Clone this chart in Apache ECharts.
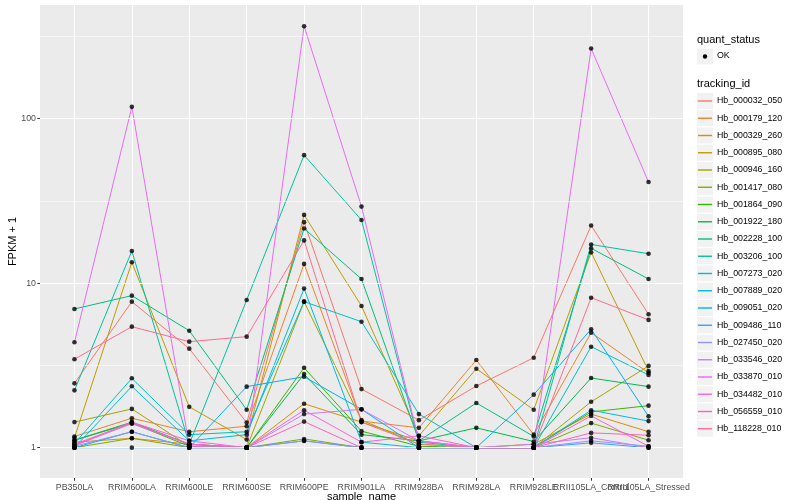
<!DOCTYPE html>
<html><head><meta charset="utf-8">
<script src="https://cdn.jsdelivr.net/npm/echarts@6/dist/echarts.min.js"></script>
<style>html,body{margin:0;padding:0;background:#fff}#c{width:800px;height:500px}</style>
</head><body><div id="c"></div>
<script>
// ---- data ----
const samples = ['PB350LA','RRIM600LA','RRIM600LE','RRIM600SE','RRIM600PE','RRIM901LA','RRIM928BA','RRIM928LA','RRIM928LE','RRII105LA_Control','RRII105LA_Stressed'];
const trackingIds = ['Hb_000032_050','Hb_000179_120','Hb_000329_260','Hb_000895_080','Hb_000946_160','Hb_001417_080','Hb_001864_090','Hb_001922_180','Hb_002228_100','Hb_003206_100','Hb_007273_020','Hb_007889_020','Hb_009051_020','Hb_009486_110','Hb_027450_020','Hb_033546_020','Hb_033870_010','Hb_034482_010','Hb_056559_010','Hb_118228_010'];
const seriesColors = ['#F8766D','#EA8331','#D89000','#C09B00','#A3A500','#7CAE00','#39B600','#00BB4E','#00BF7D','#00C1A3','#00BFC4','#00BAE0','#00B0F6','#35A2FF','#9590FF','#C77CFF','#E76BF3','#FA62DB','#FF62BC','#FF6C91'];
const yTicks = [1, 10, 100];
const yMinorTicks = [3.1623, 31.623, 316.23];

const Hb_000032_050 = [2.46, 7.72, 4.0, 1.42, 23.5, 2.27, 1.47, 2.37, 3.52, 22.4, 6.47];
const Hb_000179_120 = [1.17, 1.51, 1.25, 1.35, 13.1, 1.45, 1.32, 3.41, 1.20, 5.0, 2.85];
const Hb_000329_260 = [1.08, 1.14, 1.05, 1.0, 1.85, 1.43, 1.1, 1.0, 1.05, 1.6, 1.25];
const Hb_000895_080 = [1.15, 13.4, 1.77, 1.12, 26.0, 7.27, 1.18, 3.02, 1.70, 15.4, 2.92];
const Hb_000946_160 = [1.43, 1.72, 1.02, 1.0, 7.72, 1.47, 1.05, 1.0, 1.0, 1.9, 3.14];
const Hb_001417_080 = [1.0, 1.14, 1.0, 1.0, 1.13, 1.0, 1.0, 1.0, 1.0, 1.41, 1.11];
const Hb_001864_090 = [1.11, 1.41, 1.02, 1.0, 3.06, 1.26, 1.02, 1.0, 1.0, 1.65, 1.80];
const Hb_001922_180 = [1.11, 1.43, 1.05, 1.0, 2.8, 1.2, 1.1, 1.32, 1.09, 2.65, 2.35];
const Hb_002228_100 = [6.97, 8.4, 5.14, 1.70, 21.5, 10.6, 1.1, 1.87, 1.17, 16.3, 10.6];
const Hb_003206_100 = [2.23, 15.7, 1.05, 7.9, 60.0, 24.2, 1.08, 1.0, 1.0, 17.2, 15.1];
const Hb_007273_020 = [1.06, 2.64, 1.2, 1.25, 7.72, 5.83, 1.6, 1.0, 1.0, 4.11, 2.77];
const Hb_007889_020 = [1.0, 2.36, 1.1, 1.2, 9.27, 1.08, 1.0, 1.0, 1.0, 1.69, 1.45];
const Hb_009051_020 = [1.0, 1.25, 1.0, 2.35, 2.7, 1.71, 1.0, 1.0, 2.10, 5.25, 1.55];
const Hb_009486_110 = [1.0, 1.0, 1.0, 1.0, 1.1, 1.0, 1.0, 1.0, 1.0, 1.07, 1.0];
const Hb_027450_020 = [1.02, 1.25, 1.0, 1.0, 1.1, 1.0, 1.0, 1.0, 1.0, 1.1, 1.02];
const Hb_033546_020 = [1.03, 1.4, 1.05, 1.0, 1.6, 1.71, 1.1, 1.0, 1.05, 1.15, 1.0];
const Hb_033870_010 = [4.37, 118, 1.02, 1.0, 365, 29.2, 1.1, 1.0, 1.0, 267, 41.2];
const Hb_034482_010 = [1.03, 1.43, 1.1, 1.0, 1.69, 1.08, 1.18, 1.0, 1.0, 1.56, 1.02];
const Hb_056559_010 = [1.05, 1.41, 1.05, 1.0, 1.44, 1.0, 1.0, 1.0, 1.0, 1.23, 1.19];
const Hb_118228_010 = [3.45, 5.44, 4.41, 4.73, 18.2, 1.43, 1.05, 1.0, 1.0, 8.16, 5.98];

const seriesValues = [Hb_000032_050, Hb_000179_120, Hb_000329_260, Hb_000895_080, Hb_000946_160, Hb_001417_080, Hb_001864_090, Hb_001922_180, Hb_002228_100, Hb_003206_100, Hb_007273_020, Hb_007889_020, Hb_009051_020, Hb_009486_110, Hb_027450_020, Hb_033546_020, Hb_033870_010, Hb_034482_010, Hb_056559_010, Hb_118228_010];

// ---- layout ----
const FONT = "'Liberation Sans', Arial, sans-serif";
const panel = {left: 40, right: 683, top: 5, bottom: 478};
const yMin = 0.654, yMax = 491;
const W = 800, H = 500;
const step = (panel.right - panel.left) / (samples.length - 1 + 1.2);
const firstX = panel.left + 0.6 * step;
const lastX = panel.right - 0.6 * step;

const chart = echarts.init(document.getElementById('c'), null, {renderer: 'canvas'});

const series = [];
// horizontal grid lines on the background panel
series.push({
  type: 'line', xAxisIndex: 0, yAxisIndex: 0, data: [], silent: true, z: 1,
  markLine: {
    silent: true, symbol: ['none', 'none'], label: {show: false}, animation: false,
    data: yTicks.map(v => ({yAxis: v, lineStyle: {color: '#fff', width: 1.1, type: 'solid'}}))
      .concat(yMinorTicks.map(v => ({yAxis: v, lineStyle: {color: '#fff', width: 0.55, type: 'solid'}})))
  }
});
trackingIds.forEach((id, i) => {
  series.push({
    type: 'line', name: id, xAxisIndex: 1, yAxisIndex: 1,
    data: seriesValues[i], showSymbol: false, symbol: 'none',
    lineStyle: {color: seriesColors[i], width: 1},
    itemStyle: {color: seriesColors[i]},
    emphasis: {disabled: true}, z: 3, animation: false
  });
});
const points = [];
seriesValues.forEach(vals => vals.forEach((v, j) => points.push([samples[j], v])));
series.push({
  type: 'scatter', name: 'OK', xAxisIndex: 1, yAxisIndex: 1, data: points,
  symbol: 'circle', symbolSize: 4.6, itemStyle: {color: '#000'}, z: 5,
  emphasis: {disabled: true}, animation: false
});

const legendTop = 101, legendPitch = 17.25;
const graphics = [
  {type: 'text', left: 697, top: 34, style: {text: 'quant_status', font: '11px ' + FONT, fill: '#000'}},
  {type: 'rect', shape: {x: 697, y: 48.5, width: 16, height: 16}, style: {fill: '#F2F2F2'}, z: -1},
  {type: 'circle', shape: {cx: 705, cy: 56.5, r: 2.2}, style: {fill: '#000'}},
  {type: 'text', left: 717, top: 51.5, style: {text: 'OK', font: '8.8px ' + FONT, fill: '#000'}},
  {type: 'text', left: 697, top: 78, style: {text: 'tracking_id', font: '11px ' + FONT, fill: '#000'}}
];
trackingIds.forEach((id, i) => {
  graphics.push({type: 'rect', shape: {x: 697, y: legendTop - 8 + i * legendPitch, width: 16, height: 16}, style: {fill: '#F2F2F2'}, z: -1});
});

const option = {
  animation: false,
  backgroundColor: '#fff',
  textStyle: {fontFamily: FONT},
  grid: [
    {left: panel.left, right: W - panel.right, top: panel.top, bottom: H - panel.bottom, show: true, backgroundColor: '#EBEBEB', borderWidth: 0, z: 0, outerBoundsMode: 'none', containLabel: false},
    {left: firstX, right: W - lastX, top: panel.top, bottom: H - panel.bottom, show: false, outerBoundsMode: 'none', containLabel: false}
  ],
  xAxis: [
    {type: 'value', gridIndex: 0, min: 0, max: 1, show: false},
    {type: 'category', gridIndex: 1, data: samples, boundaryGap: false, z: 1,
     axisLine: {show: false},
     axisTick: {show: true, length: 2.75, lineStyle: {color: '#333333', width: 1}},
     axisLabel: {interval: 0, fontSize: 8.8, color: '#4D4D4D', margin: 5.5, fontFamily: FONT},
     splitLine: {show: true, lineStyle: {color: '#fff', width: 1.1}},
     name: 'sample_name', nameLocation: 'middle', nameGap: 13.2, nameMoveOverlap: false,
     nameTextStyle: {fontSize: 11, color: '#000', fontFamily: FONT}}
  ],
  yAxis: [
    {type: 'log', gridIndex: 0, logBase: 10, min: yMin, max: yMax,
     axisLine: {show: false},
     axisTick: {show: true, length: 2.75, customValues: yTicks, lineStyle: {color: '#333333', width: 1}},
     axisLabel: {customValues: yTicks, fontSize: 8.8, color: '#4D4D4D', margin: 4, fontFamily: FONT},
     splitLine: {show: false}, minorSplitLine: {show: false},
     name: 'FPKM + 1', nameLocation: 'middle', nameGap: 22, nameRotate: 90, nameMoveOverlap: false,
     nameTextStyle: {fontSize: 11, color: '#000', fontFamily: FONT}},
    {type: 'log', gridIndex: 1, logBase: 10, min: yMin, max: yMax,
     axisLine: {show: false}, axisTick: {show: false}, axisLabel: {show: false},
     splitLine: {show: false}, minorSplitLine: {show: false}}
  ],
  legend: [{
    orient: 'vertical', left: 698, top: legendTop - 8.5, padding: 0,
    data: trackingIds.map((n, i) => ({name: n, icon: 'rect', itemStyle: {color: seriesColors[i]}})),
    itemWidth: 14, itemHeight: 1.4, itemGap: legendPitch - 17,
    selectedMode: false,
    textStyle: {fontSize: 8.8, color: '#000', lineHeight: 17, fontFamily: FONT}
  }],
  graphic: graphics,
  series: series
};
chart.setOption(option);
</script>
</body></html>
